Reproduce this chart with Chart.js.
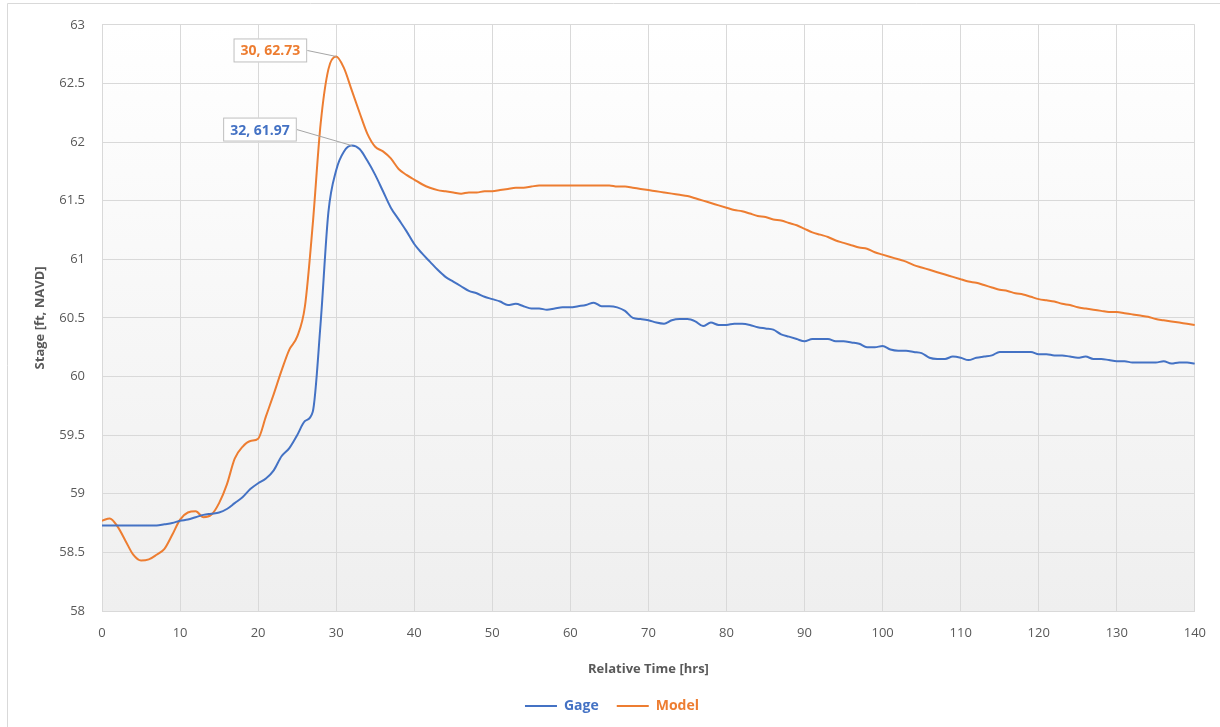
<!DOCTYPE html>
<html>
<head>
<meta charset="utf-8">
<script src="https://cdn.jsdelivr.net/npm/chart.js@4/dist/chart.umd.min.js"></script>
<style>
  body { margin: 0; background: #fff; }
  #wrap { width: 1220px; height: 727px; position: relative; }
</style>
</head>
<body>
<div id="wrap"><canvas id="grafico" width="1220" height="727"></canvas></div>
<script>
// Tempo relativo (horas)
const horas = [
  0,1,2,3,4,5,6,7,8,9,10,11,12,13,14,15,16,17,18,19,20,
  21,22,23,24,25,26,27,28,29,30,31,32,33,34,35,36,37,38,39,40,
  41,42,43,44,45,46,47,48,49,50,51,52,53,54,55,56,57,58,59,60,
  61,62,63,64,65,66,67,68,69,70,71,72,73,74,75,76,77,78,79,80,
  81,82,83,84,85,86,87,88,89,90,91,92,93,94,95,96,97,98,99,100,
  101,102,103,104,105,106,107,108,109,110,111,112,113,114,115,116,117,118,119,120,
  121,122,123,124,125,126,127,128,129,130,131,132,133,134,135,136,137,138,139,140
];

// Nível medido (Gage)
const gage = [
  58.73,58.73,58.73,58.73,58.73,58.73,58.73,58.73,58.74,58.75,58.77,
  58.78,58.80,58.82,58.83,58.84,58.87,58.92,58.97,59.04,59.09,
  59.13,59.20,59.32,59.39,59.50,59.62,59.70,60.45,61.40,61.76,
  61.92,61.97,61.94,61.84,61.72,61.58,61.44,61.34,61.24,61.13,
  61.05,60.98,60.91,60.85,60.81,60.77,60.73,60.71,60.68,60.66,
  60.64,60.61,60.62,60.60,60.58,60.58,60.57,60.58,60.59,60.59,
  60.60,60.61,60.63,60.60,60.60,60.59,60.56,60.50,60.49,60.48,
  60.46,60.45,60.48,60.49,60.49,60.47,60.43,60.46,60.44,60.44,
  60.45,60.45,60.44,60.42,60.41,60.40,60.36,60.34,60.32,60.30,
  60.32,60.32,60.32,60.30,60.30,60.29,60.28,60.25,60.25,60.26,
  60.23,60.22,60.22,60.21,60.20,60.16,60.15,60.15,60.17,60.16,
  60.14,60.16,60.17,60.18,60.21,60.21,60.21,60.21,60.21,60.19,
  60.19,60.18,60.18,60.17,60.16,60.17,60.15,60.15,60.14,60.13,
  60.13,60.12,60.12,60.12,60.12,60.13,60.11,60.12,60.12,60.11
];

// Nível do modelo (Model)
const modelo = [
  58.77,58.79,58.72,58.60,58.48,58.43,58.44,58.48,58.53,58.65,58.78,
  58.84,58.85,58.80,58.82,58.92,59.08,59.30,59.40,59.45,59.47,
  59.66,59.85,60.05,60.23,60.34,60.60,61.30,62.15,62.62,62.73,
  62.63,62.44,62.25,62.07,61.96,61.92,61.86,61.77,61.72,61.68,
  61.64,61.61,61.59,61.58,61.57,61.56,61.57,61.57,61.58,61.58,
  61.59,61.60,61.61,61.61,61.62,61.63,61.63,61.63,61.63,61.63,
  61.63,61.63,61.63,61.63,61.63,61.62,61.62,61.61,61.60,61.59,
  61.58,61.57,61.56,61.55,61.54,61.52,61.50,61.48,61.46,61.44,
  61.42,61.41,61.39,61.37,61.36,61.34,61.33,61.31,61.29,61.26,
  61.23,61.21,61.19,61.16,61.14,61.12,61.10,61.09,61.06,61.04,
  61.02,61.00,60.98,60.95,60.93,60.91,60.89,60.87,60.85,60.83,
  60.81,60.80,60.78,60.76,60.74,60.73,60.71,60.70,60.68,60.66,
  60.65,60.64,60.62,60.61,60.59,60.58,60.57,60.56,60.55,60.55,
  60.54,60.53,60.52,60.51,60.49,60.48,60.47,60.46,60.45,60.44
];

const corGage = '#4472C4';
const corModelo = '#ED7D31';
const corTexto = '#595959';
const fonte = "'Open Sans', 'Liberation Sans', sans-serif";

// Fundo com degradê na área do gráfico + moldura externa
const fundoPlugin = {
  id: 'fundo',
  beforeDraw(chart) {
    const { ctx, chartArea: a } = chart;
    ctx.save();
    ctx.strokeStyle = '#d9d9d9';
    ctx.lineWidth = 1;
    ctx.beginPath();
    ctx.moveTo(7.5, 727);
    ctx.lineTo(7.5, 3.5);
    ctx.lineTo(1220, 3.5);
    ctx.stroke();
    const g = ctx.createLinearGradient(0, a.top, 0, a.bottom);
    g.addColorStop(0, '#ffffff');
    g.addColorStop(1, '#efefef');
    ctx.fillStyle = g;
    ctx.fillRect(a.left, a.top, a.right - a.left, a.bottom - a.top);
    ctx.restore();
  }
};

// Rótulos dos picos (máximo de cada série)
const picoPlugin = {
  id: 'picos',
  afterDatasetsDraw(chart) {
    const { ctx, scales } = chart;
    const config = [
      { dados: modelo, cor: corModelo, dx: -29, dy: -6 },
      { dados: gage, cor: corGage, dx: -55, dy: -16 }
    ];
    ctx.save();
    ctx.font = "bold 14px " + fonte;
    config.forEach(c => {
      let idx = 0;
      c.dados.forEach((v, i) => { if (v > c.dados[idx]) idx = i; });
      const px = scales.x.getPixelForValue(horas[idx]);
      const py = scales.y.getPixelForValue(c.dados[idx]);
      const texto = `${horas[idx]}, ${c.dados[idx].toFixed(2)}`;
      const w = ctx.measureText(texto).width + 14;
      const h = 24;
      const right = px + c.dx;
      const cy = py + c.dy;
      ctx.strokeStyle = '#a6a6a6';
      ctx.lineWidth = 1;
      ctx.beginPath();
      ctx.moveTo(right, cy);
      ctx.lineTo(px, py);
      ctx.stroke();
      ctx.fillStyle = '#ffffff';
      ctx.fillRect(right - w, cy - h / 2, w, h);
      ctx.strokeStyle = '#bfbfbf';
      ctx.strokeRect(right - w + 0.5, cy - h / 2 + 0.5, w - 1, h - 1);
      ctx.fillStyle = c.cor;
      ctx.textAlign = 'center';
      ctx.textBaseline = 'middle';
      ctx.fillText(texto, right - w / 2, cy + 1);
    });
    ctx.restore();
  }
};

new Chart(document.getElementById('grafico'), {
  type: 'line',
  data: {
    datasets: [
      {
        label: 'Gage',
        data: horas.map((h, i) => ({ x: h, y: gage[i] })),
        borderColor: corGage,
        backgroundColor: corGage,
        borderWidth: 2,
        pointRadius: 0,
        cubicInterpolationMode: 'monotone'
      },
      {
        label: 'Model',
        data: horas.map((h, i) => ({ x: h, y: modelo[i] })),
        borderColor: corModelo,
        backgroundColor: corModelo,
        borderWidth: 2,
        pointRadius: 0,
        cubicInterpolationMode: 'monotone'
      }
    ]
  },
  options: {
    responsive: false,
    animation: false,
    layout: { padding: { left: 28, right: 24, top: 18, bottom: 4 } },
    scales: {
      x: {
        type: 'linear',
        min: 0,
        max: 140,
        ticks: { stepSize: 10, color: corTexto, font: { family: fonte, size: 13 }, padding: 14 },
        grid: { color: '#d9d9d9', drawTicks: false },
        border: { color: '#d9d9d9' },
        title: { display: true, text: 'Relative Time [hrs]', color: corTexto, font: { family: fonte, size: 13, weight: 'bold' }, padding: { top: 6 } },
        afterFit: s => { s.height = 70; }
      },
      y: {
        min: 58,
        max: 63,
        ticks: {
          stepSize: 0.5,
          color: corTexto,
          font: { family: fonte, size: 13 },
          padding: 17,
          callback: v => String(Math.round(v * 10) / 10)
        },
        grid: { color: '#d9d9d9', drawTicks: false },
        border: { color: '#d9d9d9' },
        title: { display: true, text: 'Stage [ft, NAVD]', color: corTexto, font: { family: fonte, size: 13, weight: 'bold' } },
        afterFit: s => { s.width = 74; }
      }
    },
    plugins: {
      legend: {
        position: 'bottom',
        labels: {
          boxWidth: 32,
          boxHeight: 2,
          padding: 18,
          font: { family: fonte, size: 14, weight: 'bold' },
          generateLabels: chart => chart.data.datasets.map((d, i) => ({
            text: d.label,
            fillStyle: d.borderColor,
            strokeStyle: d.borderColor,
            lineWidth: 0,
            fontColor: d.borderColor,
            datasetIndex: i
          }))
        }
      },
      tooltip: { enabled: false }
    }
  },
  plugins: [fundoPlugin, picoPlugin]
});
</script>
</body>
</html>
